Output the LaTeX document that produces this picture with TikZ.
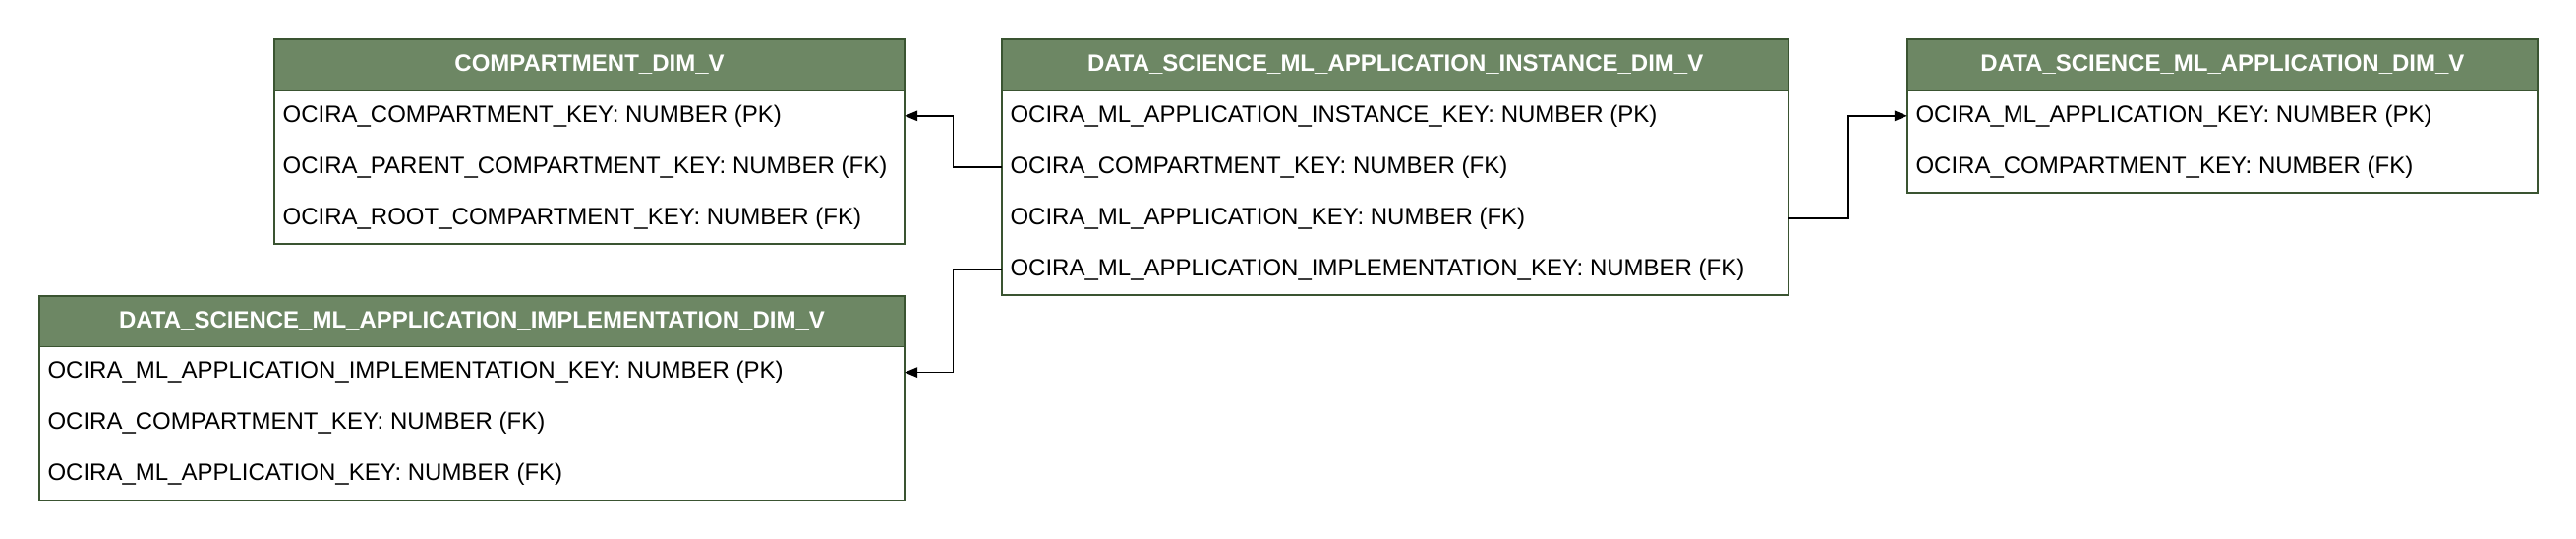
\documentclass[tikz,border=0pt]{standalone}
\usepackage{fontspec}
\setmainfont{Liberation Sans}
\usepackage{tikz}
\usetikzlibrary{arrows.meta,positioning}
\definecolor{tblgreen}{HTML}{6D8764}
\definecolor{tblline}{HTML}{3A5431}
\tikzset{
  tblhead/.style={draw=tblline, fill=tblgreen, line width=1pt, text=white, font=\fontsize{13.85}{16}\selectfont\bfseries, minimum height=30pt, inner sep=0pt, outer sep=0pt},
  tblbody/.style={draw=tblline, fill=white, line width=1pt, inner sep=0pt, outer sep=0pt},
  tblrow/.style={font=\fontsize{13.85}{16}\selectfont, minimum height=30pt, inner xsep=5pt, inner ysep=0pt, outer sep=0pt},
  fk/.style={-{Triangle[length=7.5pt, width=6pt]}, line width=0.9pt}
}

\begin{document}
\begin{tikzpicture}[x=1pt, y=1pt]
  \useasboundingbox (0,0) rectangle (1512,-316);

  % COMPARTMENT_DIM_V
  \node[tblhead, minimum width=370pt, anchor=north west] (cmp) at (161,-23) {COMPARTMENT\_DIM\_V};
  \node[tblbody, minimum width=370pt, minimum height=90pt, below=0pt of cmp] (cmpbody) {};
  \node[tblrow, below right=0pt and 0pt of cmpbody.north west] (cmp1) {OCIRA\_COMPARTMENT\_KEY: NUMBER (PK)};
  \node[tblrow, below right=0pt and 0pt of cmp1.south west] (cmp2) {OCIRA\_PARENT\_COMPARTMENT\_KEY: NUMBER (FK)};
  \node[tblrow, below right=0pt and 0pt of cmp2.south west] (cmp3) {OCIRA\_ROOT\_COMPARTMENT\_KEY: NUMBER (FK)};

  % DATA_SCIENCE_ML_APPLICATION_INSTANCE_DIM_V
  \node[tblhead, minimum width=462pt, right=57pt of cmp] (ins) {DATA\_SCIENCE\_ML\_APPLICATION\_INSTANCE\_DIM\_V};
  \node[tblbody, minimum width=462pt, minimum height=120pt, below=0pt of ins] (insbody) {};
  \node[tblrow, below right=0pt and 0pt of insbody.north west] (ins1) {OCIRA\_ML\_APPLICATION\_INSTANCE\_KEY: NUMBER (PK)};
  \node[tblrow, below right=0pt and 0pt of ins1.south west] (ins2) {OCIRA\_COMPARTMENT\_KEY: NUMBER (FK)};
  \node[tblrow, below right=0pt and 0pt of ins2.south west] (ins3) {OCIRA\_ML\_APPLICATION\_KEY: NUMBER (FK)};
  \node[tblrow, below right=0pt and 0pt of ins3.south west] (ins4) {OCIRA\_ML\_APPLICATION\_IMPLEMENTATION\_KEY: NUMBER (FK)};

  % DATA_SCIENCE_ML_APPLICATION_DIM_V
  \node[tblhead, minimum width=370pt, right=69.5pt of ins] (app) {DATA\_SCIENCE\_ML\_APPLICATION\_DIM\_V};
  \node[tblbody, minimum width=370pt, minimum height=60pt, below=0pt of app] (appbody) {};
  \node[tblrow, below right=0pt and 0pt of appbody.north west] (app1) {OCIRA\_ML\_APPLICATION\_KEY: NUMBER (PK)};
  \node[tblrow, below right=0pt and 0pt of app1.south west] (app2) {OCIRA\_COMPARTMENT\_KEY: NUMBER (FK)};

  % DATA_SCIENCE_ML_APPLICATION_IMPLEMENTATION_DIM_V
  \node[tblhead, minimum width=508pt, below=30.5pt of cmpbody.south east, anchor=north east] (impl) {DATA\_SCIENCE\_ML\_APPLICATION\_IMPLEMENTATION\_DIM\_V};
  \node[tblbody, minimum width=508pt, minimum height=90pt, below=0pt of impl] (implbody) {};
  \node[tblrow, below right=0pt and 0pt of implbody.north west] (impl1) {OCIRA\_ML\_APPLICATION\_IMPLEMENTATION\_KEY: NUMBER (PK)};
  \node[tblrow, below right=0pt and 0pt of impl1.south west] (impl2) {OCIRA\_COMPARTMENT\_KEY: NUMBER (FK)};
  \node[tblrow, below right=0pt and 0pt of impl2.south west] (impl3) {OCIRA\_ML\_APPLICATION\_KEY: NUMBER (FK)};

  \draw[fk] (ins2 -| insbody.west) -- ++(-28.5,0) |- (cmp1 -| cmpbody.east);
  \draw[fk] (ins4 -| insbody.west) -- ++(-28.5,0) |- (impl1 -| implbody.east);
  \draw[fk] (ins3 -| insbody.east) -- ++(35,0) |- (app1 -| appbody.west);
\end{tikzpicture}
\end{document}
